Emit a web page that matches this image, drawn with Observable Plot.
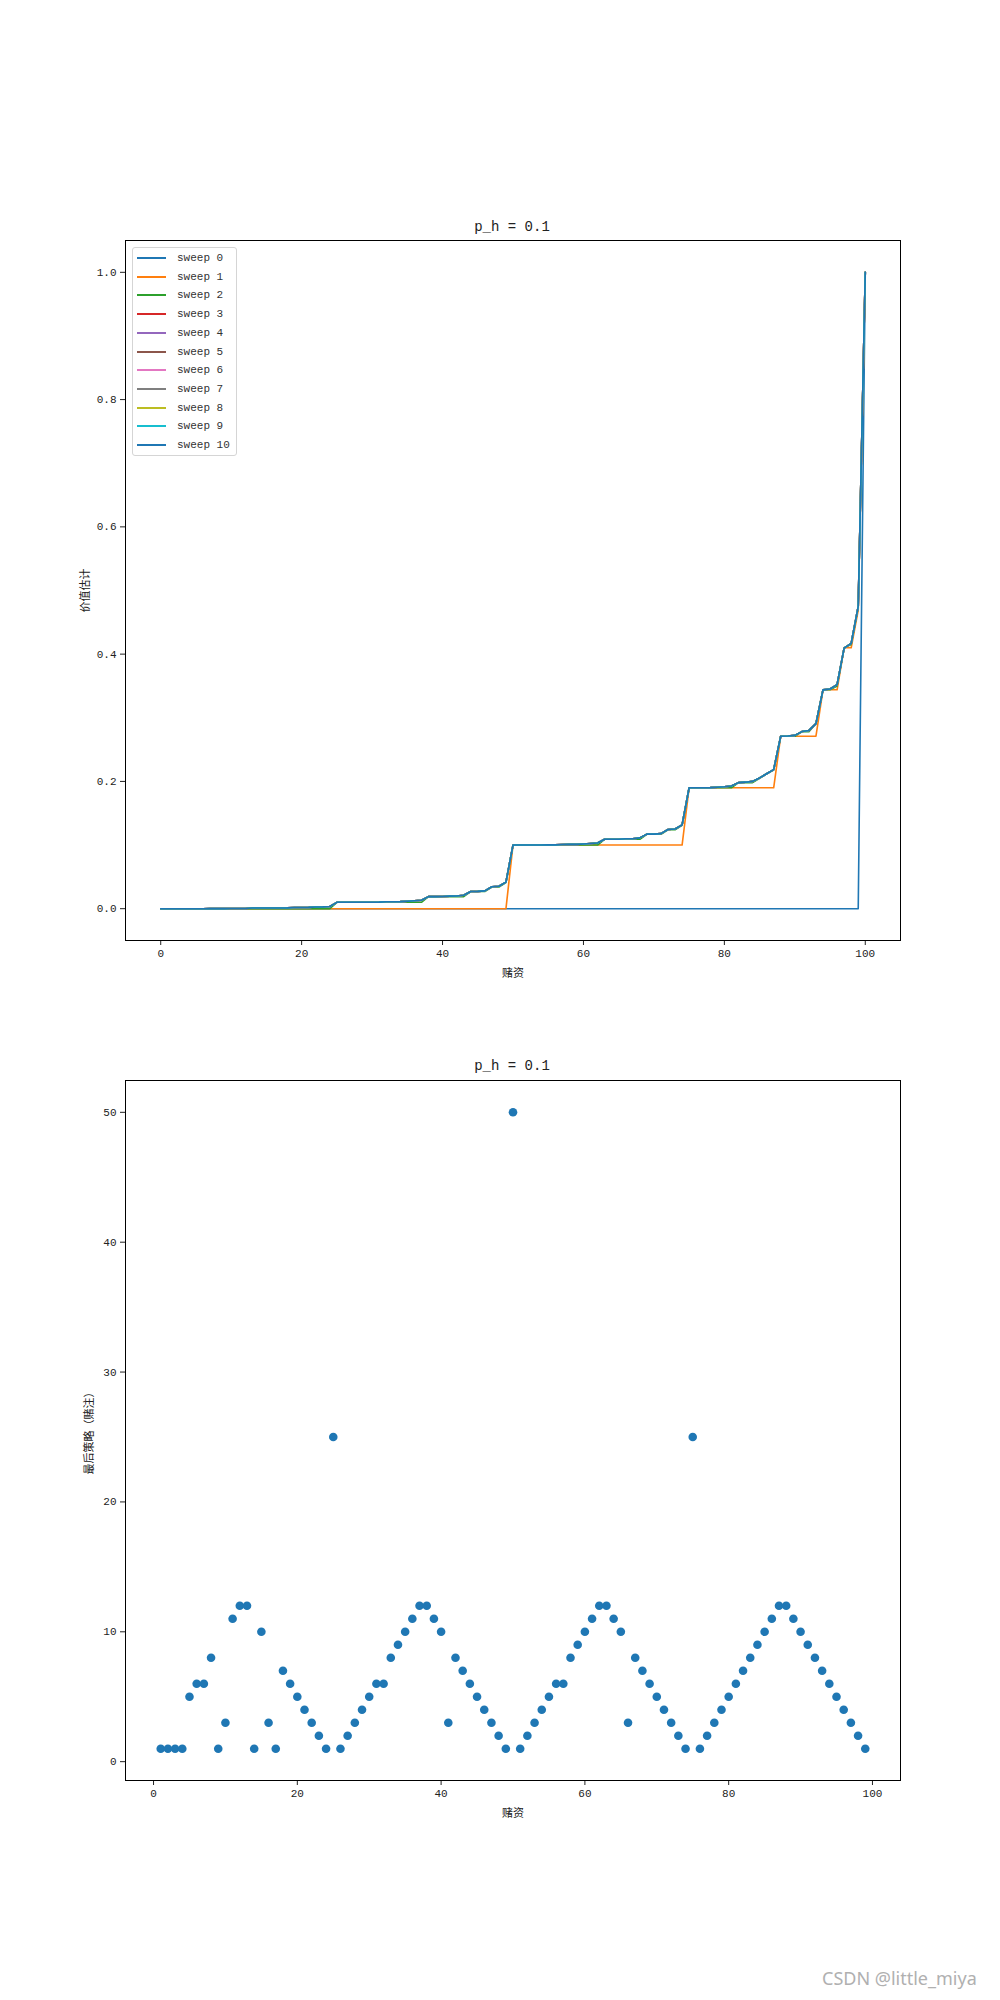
<!DOCTYPE html>
<html><head><meta charset="utf-8">
<script src="https://cdn.jsdelivr.net/npm/d3@7"></script>
<script src="https://cdn.jsdelivr.net/npm/@observablehq/plot@0.6"></script>
<style>
body{margin:0;background:#fff;}
#wrap{position:relative;width:1000px;height:2000px;font-family:'Liberation Mono','Noto Sans CJK SC',monospace;color:#000;}
#wrap svg{position:absolute;left:0;}
.title{position:absolute;font-size:14px;line-height:14px;transform:translateX(-50%);white-space:pre;color:#222;}
#legend{position:absolute;left:132px;top:247px;width:105px;height:209px;border:1px solid #d5d5d5;border-radius:3px;background:rgba(255,255,255,0.8);box-sizing:border-box;font-size:11px;}
#legend .row{position:absolute;left:0;height:12px;width:100%;}
#legend .sw{position:absolute;left:4px;top:5px;width:29px;height:2px;}
#legend .lb{position:absolute;left:44px;top:-1px;line-height:14px;white-space:pre;color:#333;}
#mark{position:absolute;left:822px;top:1966px;font-family:'Noto Sans',sans-serif;font-size:18px;color:#b0b0b0;white-space:pre;}
</style></head>
<body><div id="wrap"></div>
<script>
// ---------- data ----------
const sweepNames = ["sweep 0","sweep 1","sweep 2","sweep 3","sweep 4","sweep 5","sweep 6","sweep 7","sweep 8","sweep 9","sweep 10"];
const sweepColors = ["#1f77b4","#ff7f0e","#2ca02c","#d62728","#9467bd","#8c564b","#e377c2","#7f7f7f","#bcbd22","#17becf","#1f77b4"];
const capital = d3.range(0, 101);

const sweep0 = [
0,0,0,0,0,0,0,0,0,0, 0,0,0,0,0,0,0,0,0,0, 0,0,0,0,0,0,0,0,0,0, 0,0,0,0,0,0,0,0,0,0,
0,0,0,0,0,0,0,0,0,0, 0,0,0,0,0,0,0,0,0,0, 0,0,0,0,0,0,0,0,0,0, 0,0,0,0,0,0,0,0,0,0,
0,0,0,0,0,0,0,0,0,0, 0,0,0,0,0,0,0,0,0,0, 1];

const sweep1 = [
0,0,0,0,0,0,0,0,0,0, 0,0,0,0,0,0,0,0,0,0, 0,0,0,0,0,0,0,0,0,0, 0,0,0,0,0,0,0,0,0,0,
0,0,0,0,0,0,0,0,0,0,
0.1,0.1,0.1,0.1,0.1,0.1,0.1,0.1,0.1,0.1, 0.1,0.1,0.1,0.1,0.1,0.1,0.1,0.1,0.1,0.1,
0.1,0.1,0.1,0.1,0.1,
0.19,0.19,0.19,0.19,0.19,0.19,0.19,0.19,0.19,0.19,0.19,0.19,0.19,
0.271,0.271,0.271,0.271,0.271,0.271,
0.344,0.344,0.344, 0.41,0.41, 0.469, 1];

const sweep2 = [
0,0,0,0,0,0,0,0,0,0, 0,0,0,0,0,0,0,0,0,0, 0,0,0,0,0,
0.01,0.01,0.01,0.01,0.01,0.01,0.01,0.01,0.01,0.01,0.01,0.01,0.01,
0.019,0.019,0.019,0.019,0.019,0.019,
0.027,0.027,0.027, 0.034,0.034, 0.041,
0.1,0.1,0.1,0.1,0.1,0.1,0.1,0.1,0.1,0.1,0.1,0.1,0.1,
0.109,0.109,0.109,0.109,0.109,0.109,
0.117,0.117,0.117, 0.124,0.124, 0.131,
0.19,0.19,0.19,0.19,0.19,0.19,0.19,
0.198,0.198,0.198, 0.205,0.212,0.218,
0.271,0.271,0.271, 0.278,0.278, 0.291,
0.344,0.344, 0.350, 0.410, 0.415, 0.474, 1];

// sweeps 3..10 (converged, drawn on top of each other)
const sweepLate = [
0,0,0,0,0,0,0,0.0001,0.0001,0.0001,
0.0002,0.0003,0.0004,0.0010,0.0010,0.0010,0.0011,0.0011,0.0012,0.0019,
0.0019,0.0020,0.0027,0.0028,0.0035,0.0100,0.0100,0.0100,0.0100,0.0101,
0.0102,0.0103,0.0109,0.0110,0.0111,0.0117,0.0124,0.0132,0.0190,0.0190,
0.0192,0.0198,0.0200,0.0212,0.0271,0.0272,0.0280,0.0344,0.0352,0.0417,
0.1000,0.1000,0.1000,0.1000,0.1001,0.1002,0.1003,0.1009,0.1010,0.1011,
0.1017,0.1024,0.1032,0.1090,0.1090,0.1092,0.1098,0.1100,0.1112,0.1171,
0.1172,0.1180,0.1244,0.1252,0.1317,0.1900,0.1900,0.1901,0.1903,0.1909,
0.1916,0.1929,0.1981,0.1988,0.2001,0.2055,0.2120,0.2185,0.2710,0.2713,
0.2724,0.2783,0.2801,0.2908,0.3439,0.3452,0.3521,0.4095,0.4169,0.4752,
1];

const sweepValues = [sweep0, sweep1, sweep2, sweepLate, sweepLate, sweepLate, sweepLate, sweepLate, sweepLate, sweepLate, sweepLate];

const policyCapital = d3.range(1, 100);
const policyStake = [
1,1,1,1,5,6,6,8,1,3,
11,12,12,1,10,3,1,7,6,5,
4,3,2,1,25,1,2,3,4,5,
6,6,8,9,10,11,12,12,11,10,
3,8,7,6,5,4,3,2,1,50,
1,2,3,4,5,6,6,8,9,10,
11,12,12,11,10,3,8,7,6,5,
4,3,2,1,25,1,2,3,4,5,
6,7,8,9,10,11,12,12,11,10,
9,8,7,6,5,4,3,2,1];

const xTicks = [0,20,40,60,80,100];
const yTicksTop = [0,0.2,0.4,0.6,0.8,1.0];
const yTicksBottom = [0,10,20,30,40,50];
const titleText = "p_h = 0.1";

// ---------- drawing ----------
const font = "'Liberation Mono','Noto Sans CJK SC',monospace";
const wrap = document.getElementById("wrap");

const lineMarks = sweepNames.map((name, i) => {
  const rows = capital.map((c, j) => ({capital: c, value: sweepValues[i][j]}));
  return Plot.line(rows, {x: "capital", y: "value", stroke: sweepColors[i], strokeWidth: 1.6});
});

const topPlot = Plot.plot({
  width: 1000, height: 1000,
  marginTop: 240, marginBottom: 60, marginLeft: 125, marginRight: 100,
  style: {fontFamily: font, fontSize: "11px", color: "#222", background: "transparent"},
  x: {domain: [-5, 105], ticks: xTicks, tickSize: 5, tickPadding: 4, label: "赌资", labelAnchor: "center", labelOffset: 36, labelArrow: "none"},
  y: {domain: [-0.05, 1.05], ticks: yTicksTop, tickFormat: d3.format(".1f"), tickSize: 5, tickPadding: 4, label: "价值估计", labelAnchor: "center", labelOffset: 44, labelArrow: "none"},
  marks: [...lineMarks, Plot.frame({stroke: "#000", strokeWidth: 1})]
});
topPlot.style.top = "0px";
wrap.appendChild(topPlot);

const policyRows = policyCapital.map((c, i) => ({capital: c, stake: policyStake[i]}));
const bottomPlot = Plot.plot({
  width: 1000, height: 1000,
  marginTop: 80, marginBottom: 220, marginLeft: 125, marginRight: 100,
  style: {fontFamily: font, fontSize: "11px", color: "#222", background: "transparent"},
  x: {domain: [-3.9, 103.9], ticks: xTicks, tickSize: 5, tickPadding: 4, label: "赌资", labelAnchor: "center", labelOffset: 36, labelArrow: "none"},
  y: {domain: [-1.45, 52.45], ticks: yTicksBottom, tickSize: 5, tickPadding: 4, label: "最后策略（赌注）", labelAnchor: "center", labelOffset: 40, labelArrow: "none"},
  marks: [
    Plot.dot(policyRows, {x: "capital", y: "stake", r: 4.3, fill: "#1f77b4", stroke: "none"}),
    Plot.frame({stroke: "#000", strokeWidth: 1})
  ]
});
bottomPlot.style.top = "1000px";
wrap.appendChild(bottomPlot);

// titles
[[220, titleText], [1059, titleText]].forEach(([top, txt]) => {
  const d = document.createElement("div");
  d.className = "title"; d.style.left = "512px"; d.style.top = top + "px"; d.textContent = txt;
  wrap.appendChild(d);
});

// legend
const lg = document.createElement("div"); lg.id = "legend";
sweepNames.forEach((name, i) => {
  const r = document.createElement("div"); r.className = "row"; r.style.top = (4 + i * 18.7) + "px";
  const s = document.createElement("div"); s.className = "sw"; s.style.background = sweepColors[i];
  const l = document.createElement("div"); l.className = "lb"; l.textContent = name;
  r.appendChild(s); r.appendChild(l); lg.appendChild(r);
});
wrap.appendChild(lg);

const wm = document.createElement("div"); wm.id = "mark"; wm.textContent = "CSDN @little_miya";
wrap.appendChild(wm);
</script>
</body></html>
